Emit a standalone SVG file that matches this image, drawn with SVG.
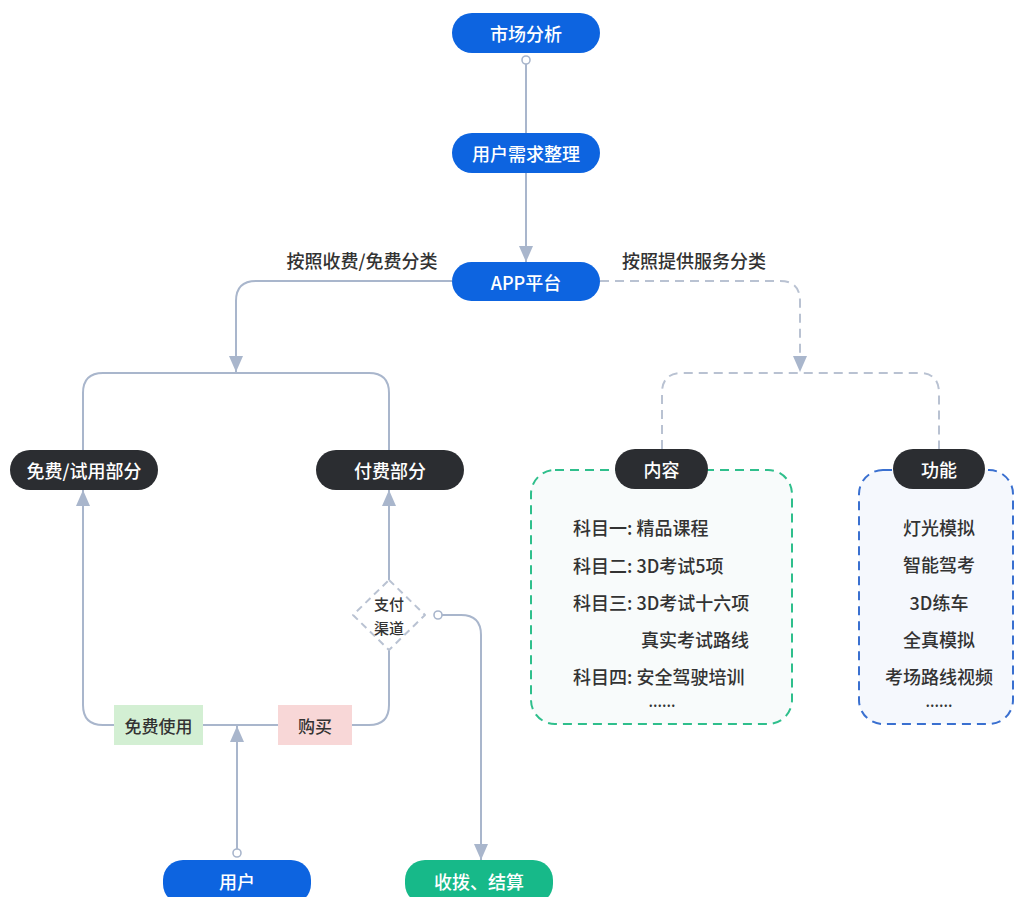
<svg xmlns="http://www.w3.org/2000/svg" width="1017" height="897" viewBox="0 0 1017 897">
<defs>
<style>
text{font-family:"Noto Sans CJK SC","Noto Sans",sans-serif;}
.pill-blue{fill:#0d64e0;}
.pill-dark{fill:#2b2d31;}
.pill-green{fill:#17b989;}
.wt{fill:#ffffff;font-size:18px;font-weight:500;text-anchor:middle;dominant-baseline:central;}
.dt{fill:#333333;font-size:18px;font-weight:500;dominant-baseline:central;}
.lbl{fill:#333333;font-size:18px;text-anchor:middle;dominant-baseline:central;font-weight:500;}
.conn{fill:none;stroke:#a9b6cc;stroke-width:2;}
.dash{stroke-dasharray:9 6;stroke:#b9c2d2;}
.dot{fill:#ffffff;stroke:#a9b6cc;stroke-width:1.6;}
</style>
<marker id="arr" markerUnits="userSpaceOnUse" markerWidth="16" markerHeight="14" viewBox="0 0 16 14" refX="16" refY="7" orient="auto">
<path d="M0 0 L16 7 L0 14 Z" fill="#a9b6cc"/>
</marker>
</defs>
<rect width="1017" height="897" fill="#ffffff"/>

<g id="connectors">
<path class="conn" d="M526 64 V133"/>
<path class="conn" d="M526 173 V262" marker-end="url(#arr)"/>
<path class="conn" d="M452 281 H256 Q236 281 236 301 V372" marker-end="url(#arr)"/>
<path class="conn" d="M83 450 V393 Q83 373 103 373 H369 Q389 373 389 393 V450"/>
<path class="conn" d="M114 725 H103 Q83 725 83 705 V490" marker-end="url(#arr)"/>
<path class="conn" d="M203 725 H278"/>
<path class="conn" d="M237 856 V726" marker-end="url(#arr)"/>
<path class="conn" d="M352 725 H369 Q389 725 389 705 V650"/>
<path class="conn" d="M389 580 V490" marker-end="url(#arr)"/>
<path class="conn" d="M442 615 H461 Q481 615 481 635 V860" marker-end="url(#arr)"/>
<path class="conn dash" d="M600 281 H780 Q800 281 800 301 V372" marker-end="url(#arr)"/>
<path class="conn dash" d="M662 449 V393 Q662 373 682 373 H919 Q939 373 939 393 V449"/>
<circle class="dot" cx="526" cy="60" r="4"/>
<circle class="dot" cx="237" cy="853" r="4"/>
<circle class="dot" cx="438" cy="615" r="4"/>
<text class="lbl" x="362" y="260">按照收费/免费分类</text>
<text class="lbl" x="694" y="260">按照提供服务分类</text>
</g>

<g id="n-market">
<rect class="pill-blue" x="452" y="13" width="148" height="40" rx="20"/>
<text class="wt" x="526" y="33">市场分析</text>
</g>
<g id="n-demand">
<rect class="pill-blue" x="452" y="133" width="148" height="40" rx="20"/>
<text class="wt" x="526" y="153">用户需求整理</text>
</g>
<g id="n-app">
<rect class="pill-blue" x="452" y="262" width="148" height="39" rx="19.5"/>
<text class="wt" x="526" y="281.5">APP平台</text>
</g>
<g id="n-free">
<rect class="pill-dark" x="10" y="450" width="148" height="40" rx="20"/>
<text class="wt" x="84" y="470">免费/试用部分</text>
</g>
<g id="n-paid">
<rect class="pill-dark" x="316" y="450" width="148" height="40" rx="20"/>
<text class="wt" x="390" y="470">付费部分</text>
</g>
<g id="n-freeuse">
<rect x="114" y="705" width="89" height="40" fill="#d3efd3"/>
<text class="lbl" x="158.5" y="725" style="font-size:17px">免费使用</text>
</g>
<g id="n-buy">
<rect x="278" y="705" width="74" height="40" fill="#f8d7d7"/>
<text class="lbl" x="315" y="725" style="font-size:17px">购买</text>
</g>
<g id="n-pay">
<path d="M389 580 L425 615 L389 650 L353 615 Z" fill="#ffffff" stroke="#b9c2d2" stroke-width="2" stroke-dasharray="7 5" stroke-linejoin="round"/>
<text class="lbl" x="389" y="603" style="font-size:15px">支付</text>
<text class="lbl" x="389" y="627" style="font-size:15px">渠道</text>
</g>
<g id="n-user">
<rect class="pill-blue" x="163" y="860" width="148" height="44" rx="20"/>
<text class="wt" x="237" y="881">用户</text>
</g>
<g id="n-settle">
<rect class="pill-green" x="405" y="860" width="148" height="44" rx="20"/>
<text class="wt" x="479" y="881">收拨、结算</text>
</g>

<g id="n-content">
<rect x="531" y="470" width="261" height="254" rx="24" fill="#f8fbfb" stroke="#2fbf8c" stroke-width="2" stroke-dasharray="9 6"/>
<rect class="pill-dark" x="615" y="449" width="93" height="40" rx="20"/>
<text class="wt" x="661.5" y="469">内容</text>
<text class="dt" x="573" y="527">科目一: 精品课程</text>
<text class="dt" x="573" y="565">科目二: 3D考试5项</text>
<text class="dt" x="573" y="602">科目三: 3D考试十六项</text>
<text class="dt" x="641" y="639">真实考试路线</text>
<text class="dt" x="573" y="676">科目四: 安全驾驶培训</text>
<text class="dt" x="662" y="700" text-anchor="middle" style="font-size:15px">......</text>
</g>

<g id="n-func">
<rect x="859" y="470" width="154" height="254" rx="24" fill="#f5f8fd" stroke="#3a70d0" stroke-width="2" stroke-dasharray="9 6"/>
<rect class="pill-dark" x="893" y="449" width="92" height="40" rx="20"/>
<text class="wt" x="939" y="469">功能</text>
<text class="dt" x="939" y="527" text-anchor="middle">灯光模拟</text>
<text class="dt" x="939" y="564" text-anchor="middle">智能驾考</text>
<text class="dt" x="939" y="602" text-anchor="middle">3D练车</text>
<text class="dt" x="939" y="639" text-anchor="middle">全真模拟</text>
<text class="dt" x="939" y="676" text-anchor="middle">考场路线视频</text>
<text class="dt" x="939" y="700" text-anchor="middle" style="font-size:15px">......</text>
</g>
</svg>
